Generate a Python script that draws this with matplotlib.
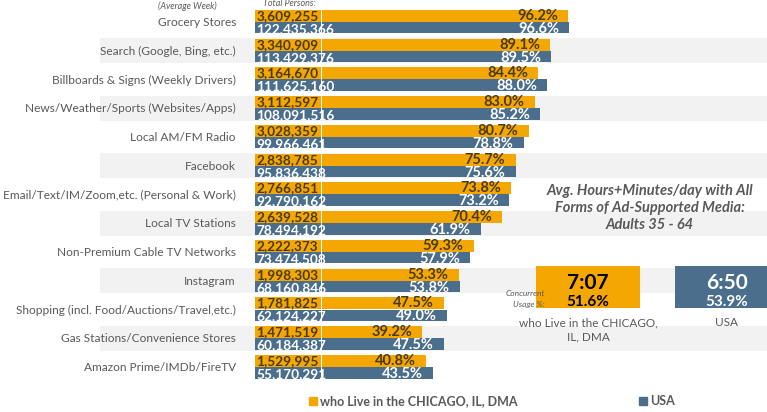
import matplotlib
matplotlib.use("Agg")
import matplotlib.pyplot as plt
from matplotlib.lines import Line2D

plt.rcParams['font.family'] = ['Lato', 'DejaVu Sans']

categories = [
    "Grocery Stores",
    "Search (Google, Bing, etc.)",
    "Billboards & Signs (Weekly Drivers)",
    "News/Weather/Sports (Websites/Apps)",
    "Local AM/FM Radio",
    "Facebook",
    "Email/Text/IM/Zoom,etc. (Personal & Work)",
    "Local TV Stations",
    "Non-Premium Cable TV Networks",
    "Instagram",
    "Shopping (incl. Food/Auctions/Travel,etc.)",
    "Gas Stations/Convenience Stores",
    "Amazon Prime/IMDb/FireTV",
]
chicago_pct = [96.2, 89.1, 84.4, 83.0, 80.7, 75.7, 73.8, 70.4, 59.3, 53.3, 47.5, 39.2, 40.8]
usa_pct = [96.6, 89.5, 88.0, 85.2, 78.8, 75.6, 73.2, 61.9, 57.9, 53.8, 49.0, 47.5, 43.5]
chicago_persons = [3609255, 3340909, 3164670, 3112597, 3028359, 2838785, 2766851,
                   2639528, 2222373, 1998303, 1781825, 1471519, 1529995]
usa_persons = [122435366, 113429376, 111625160, 108091516, 99966461, 95836438, 92790162,
               78494192, 73474508, 68160846, 62124227, 60184387, 55170291]

series_names = ["who Live in the CHICAGO, IL, DMA", "USA"]
avg_time = ["7:07", "6:50"]
concurrent = ["51.6%", "53.9%"]
panel_labels = ["who Live in the CHICAGO,\nIL, DMA", "USA"]

ORANGE = "#F4A700"
BLUE = "#4A6E8B"
GRAY = "#595959"
BAND = "#F2F2F2"
DARK = "#4A3B0E"

W, H = 767, 412
fig = plt.figure(figsize=(W / 100, H / 100), dpi=100)

# main axes covers whole figure; x in percent units, y in row units
x0, sx = 322, 2.561
y0, sy = 22, 28.75
ax = fig.add_axes([0, 0, 1, 1])
ax.set_xlim(-x0 / sx, (W - x0) / sx)
ax.set_ylim((H - y0) / sy, -y0 / sy)
ax.axis("off")

n = len(categories)
rows = list(range(n))

for i in rows:
    if i % 2 == 1:
        ax.axhspan(i - 0.44, i + 0.44, xmin=100 / W, xmax=1, color=BAND, zorder=0, lw=0)

ax.barh([i - 0.21 for i in rows], chicago_pct, height=0.42, color=ORANGE, zorder=2)
ax.barh([i + 0.20 for i in rows], usa_pct, height=0.40, color=BLUE, zorder=2)

# boxes holding total persons
box_w = 25.8
ax.barh([i - 0.21 for i in rows], [box_w] * n, left=-26.2, height=0.42, color=ORANGE, zorder=2)
ax.barh([i + 0.20 for i in rows], [box_w] * n, left=-26.2, height=0.40, color=BLUE, zorder=2)

for i in rows:
    ax.text(-33.6, i + 0.02, categories[i], ha="right", va="center", fontsize=8.6, color=GRAY)
    ax.text(-25.6, i - 0.21, f"{chicago_persons[i]:,}", ha="left", va="center",
            fontsize=9.8, fontweight="bold", color=DARK, zorder=3)
    ax.text(-25.6, i + 0.24, f"{usa_persons[i]:,}", ha="left", va="center",
            fontsize=9.8, fontweight="bold", color="white", zorder=3)
    ax.text(chicago_pct[i] - 4.0, i - 0.21, f"{chicago_pct[i]:.1f}%", ha="right", va="center",
            fontsize=10.5, fontweight="bold", color=DARK, zorder=3)
    ax.text(usa_pct[i] - 4.0, i + 0.24, f"{usa_pct[i]:.1f}%", ha="right", va="center",
            fontsize=10.5, fontweight="bold", color="white", zorder=3)


def fx(px):
    return px / W


def fy(py):
    return 1 - py / H


fig.text(fx(187), fy(6), "(Average Week)", ha="center", va="center", fontsize=6.5,
         style="italic", color=GRAY)
fig.text(fx(289), fy(4), "Total Persons:", ha="center", va="center", fontsize=6.5,
         style="italic", color=GRAY)

fig.text(fx(650), fy(208), "Avg. Hours+Minutes/day with All\nForms of Ad-Supported Media:\nAdults 35 - 64",
         ha="center", va="center", fontsize=10.5, style="italic", fontweight="bold",
         color=GRAY, linespacing=1.25)

# summary boxes
bx = fig.add_axes([fx(536), fy(308), (W - 536) / W, 42 / H])
bx.set_xlim(-0.374, 1.288)
bx.set_ylim(0, 1)
bx.axis("off")
bx.bar([0, 1], [1, 1], width=0.748, color=[ORANGE, BLUE], align="center")
for k, c in enumerate(["black", "white"]):
    bx.text(k, 0.60, avg_time[k], ha="center", va="center", fontsize=15,
            fontweight="bold", color=c)
    bx.text(k, 0.15, concurrent[k], ha="center", va="center", fontsize=11,
            fontweight="bold", color=c)

fig.text(fx(545), fy(293), "Concurrent", ha="right", va="center", fontsize=6,
         style="italic", color=GRAY, zorder=5)
fig.text(fx(545), fy(304), "Usage %:", ha="right", va="center", fontsize=6,
         style="italic", color=GRAY, zorder=5)

fig.text(fx(588), fy(330), panel_labels[0], ha="center", va="center", fontsize=8.5,
         color=GRAY, linespacing=1.3)
fig.text(fx(727), fy(323), panel_labels[1], ha="center", va="center", fontsize=8.5,
         color=GRAY)

handles = [Line2D([], [], marker="s", ls="", color=ORANGE, markersize=6),
           Line2D([], [], marker="s", ls="", color=BLUE, markersize=6)]
leg = fig.legend(handles, series_names, loc="center left", bbox_to_anchor=(fx(308), fy(401)),
                 ncol=2, frameon=False, fontsize=9, handlelength=0.8, handletextpad=0.2,
                 columnspacing=9.6, borderpad=0, borderaxespad=0)
for t in leg.get_texts():
    t.set_color(GRAY)
    t.set_fontweight("bold")

fig.savefig("out.png", dpi=100)
